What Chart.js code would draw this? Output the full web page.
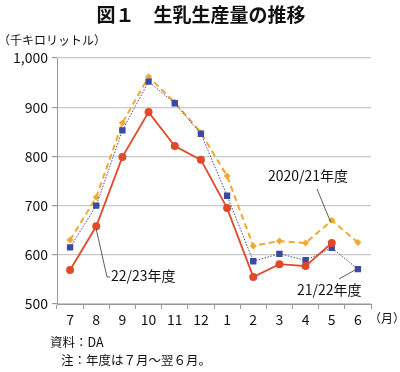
<!DOCTYPE html>
<html><head><meta charset="utf-8">
<script src="https://cdn.jsdelivr.net/npm/chart.js@4/dist/chart.umd.min.js"></script>
<style>html,body{margin:0;padding:0;background:#fff}#wrap{width:400px;height:372px;position:relative}</style>
</head><body><div id="wrap"><canvas id="c" width="400" height="372"></canvas></div>
<script>
const months = ['7','8','9','10','11','12','1','2','3','4','5','6'];
const fy2020 = [630, 717, 868, 962, 910, 848, 760, 618, 628, 624, 670, 625];
const fy2021 = [615, 700, 853, 952, 908, 846, 720, 587, 602, 589, 614, 571];
const fy2022 = [569, 658, 799, 890, 821, 793, 695, 555, 581, 577, 624, null];
const yTicks = [500, 600, 700, 800, 900, 1000];
const JP = '"Noto Sans CJK JP", "Noto Sans", sans-serif';

const overlay = {
  id: 'overlay',
  afterDraw(chart) {
    const ctx = chart.ctx, x = chart.scales.x, y = chart.scales.y;
    ctx.save();
    ctx.fillStyle = '#111';
    ctx.font = 'bold 19px ' + JP;
    ctx.textAlign = 'center'; ctx.textBaseline = 'middle';
    ctx.fillText('図１　生乳生産量の推移', 201, 15);
    ctx.font = '12px ' + JP;
    ctx.textAlign = 'left';
    ctx.fillText('（千キロリットル）', -2, 40);
    ctx.fillText('（月）', 369, 318);
    ctx.font = '12.5px ' + JP;
    ctx.fillText('資料：DA', 50, 342);
    ctx.fillText('注：年度は７月～翌６月。', 61, 360);
    ctx.font = '14px ' + JP;
    ctx.fillText('2020/21年度', 268, 176);
    ctx.fillText('22/23年度', 111, 276);
    ctx.fillText('21/22年度', 297, 290);
    ctx.strokeStyle = '#333'; ctx.lineWidth = 0.8;
    ctx.beginPath();
    ctx.moveTo(317, 189);
    ctx.lineTo(x.getPixelForValue(10) - 1, y.getPixelForValue(fy2020[10]) + 2);
    ctx.stroke();
    ctx.beginPath();
    ctx.moveTo(x.getPixelForValue(1), y.getPixelForValue(fy2022[1]) + 3);
    ctx.lineTo(107, 277);
    ctx.lineTo(110, 277);
    ctx.stroke();
    ctx.beginPath();
    ctx.moveTo(339, 279);
    ctx.lineTo(x.getPixelForValue(11) - 3, y.getPixelForValue(fy2021[11]) + 1);
    ctx.stroke();
    ctx.restore();
  }
};

new Chart(document.getElementById('c'), {
  type: 'line',
  data: {
    labels: months,
    datasets: [
      { label: '22/23年度', data: fy2022, borderColor: '#e04a2a', backgroundColor: '#e04a2a',
        borderWidth: 1.8, pointStyle: 'circle', pointRadius: 4, pointBorderWidth: 0 },
      { label: '21/22年度', data: fy2021, borderColor: '#3b4aa0', backgroundColor: '#3b4aa0',
        borderWidth: 1, borderDash: [1.5, 1.5], pointStyle: 'rect', pointRadius: 4.5, pointBorderWidth: 0 },
      { label: '2020/21年度', data: fy2020, borderColor: '#f0a830', backgroundColor: '#f0a830',
        borderWidth: 2, borderDash: [6, 4], pointStyle: 'rectRot', pointRadius: 3.5, pointBorderWidth: 0 }
    ]
  },
  options: {
    responsive: false, animation: false,
    layout: { padding: { left: 0, right: 29, top: 58, bottom: 38 } },
    plugins: { legend: { display: false }, tooltip: { enabled: false } },
    scales: {
      x: {
        offset: true,
        grid: { offset: true, drawOnChartArea: false, color: '#999', tickLength: 5 },
        border: { color: '#999' },
        ticks: { color: '#111', font: { family: JP, size: 14 }, padding: 2, maxRotation: 0, autoSkip: false },
        afterFit(s) { s.height = 30; }
      },
      y: {
        min: 500, max: 1000,
        afterBuildTicks(s) { s.ticks = yTicks.map(v => ({ value: v })); },
        grid: { color: '#c8c8c8', lineWidth: 1.2, tickLength: 5, tickColor: '#999' },
        border: { color: '#999' },
        ticks: { color: '#111', font: { family: JP, size: 14 }, padding: 4,
          callback: v => v.toLocaleString('en-US') },
        afterFit(s) { s.width = 57; }
      }
    }
  },
  plugins: [overlay]
});
</script></body></html>
